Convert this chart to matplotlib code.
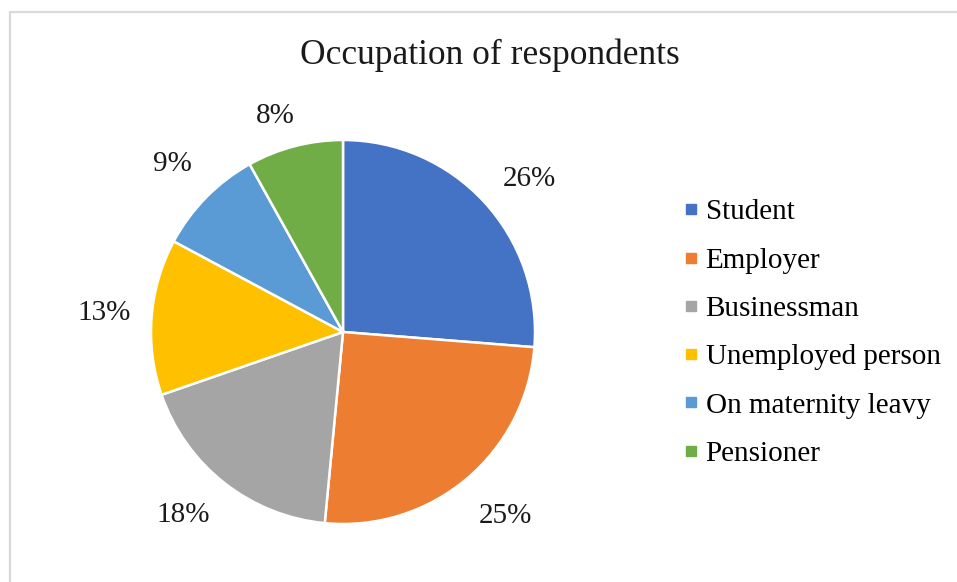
import matplotlib

matplotlib.use("Agg")
import matplotlib.pyplot as plt
from matplotlib.lines import Line2D
from matplotlib.patches import Rectangle

categories = ["Student", "Employer", "Businessman", "Unemployed person",
              "On maternity leavy", "Pensioner"]
shares = [26, 25, 18, 13, 9, 8]
pct_labels = ["26%", "25%", "18%", "13%", "9%", "8%"]
colors = ["#4472C4", "#ED7D31", "#A5A5A5", "#FFC000", "#5B9BD5", "#70AD47"]

plt.rcParams["font.family"] = ["Liberation Serif", "DejaVu Serif"]

W, H = 957, 582
fig = plt.figure(figsize=(W / 100, H / 100), dpi=100)
fig.patch.set_facecolor("white")

# light frame around the chart area (runs off the right/bottom edge)
fig.patches.append(Rectangle((10 / W, -0.1), 1.2, (H - 12) / H + 0.1,
                             transform=fig.transFigure, fill=False,
                             edgecolor="#d9d9d9", linewidth=1.6))

cx, cy, r = 343, 332, 192
ax = fig.add_axes([(cx - r) / W, (H - cy - r) / H, 2 * r / W, 2 * r / H])
wedges, texts = ax.pie(
    shares,
    labels=pct_labels,
    colors=colors,
    startangle=90,
    counterclock=False,
    labeldistance=1.25,
    wedgeprops={"edgecolor": "white", "linewidth": 1.8},
    textprops={"fontsize": 21, "color": "#1a1a1a"},
)
for t in texts:
    t.set_ha("center")
    t.set_va("center")
# nudge a few labels toward where the original puts them
x, y = texts[-1].get_position()
texts[-1].set_position((x * 0.93 - 0.06, y * 0.93))
x, y = texts[0].get_position()
texts[0].set_position((x + 0.05, y - 0.05))
x, y = texts[2].get_position()
texts[2].set_position((x - 0.06, y + 0.03))
x, y = texts[1].get_position()
texts[1].set_position((x + 0.04, y))
ax.set_xlim(-1, 1)
ax.set_ylim(-1, 1)
ax.set_aspect("equal")

fig.text(490 / W, 1 - 55 / H, "Occupation of respondents", ha="center",
         va="center", fontsize=25.5, color="#1a1a1a")

handles = [Line2D([], [], marker="s", linestyle="none", markersize=7,
                  markerfacecolor=c, markeredgecolor=c) for c in colors]
fig.legend(handles, categories, loc="center left",
           bbox_to_anchor=(672 / W, 1 - 333 / H), frameon=False,
           fontsize=21, handlelength=0.5, handletextpad=0.25,
           labelspacing=0.75, borderaxespad=0)

fig.savefig("out.png", dpi=100)
